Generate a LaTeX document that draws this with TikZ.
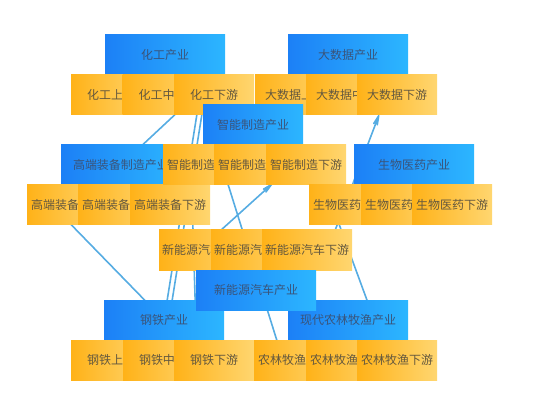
\documentclass[tikz,border=0pt]{standalone}
\usepackage{fontspec}
\setmainfont{Noto Sans CJK SC}
\usetikzlibrary{positioning}
\usetikzlibrary{backgrounds}
\usetikzlibrary{arrows.meta}
\definecolor{fg}{RGB}{100,88,62}
\definecolor{hdfg}{RGB}{58,84,122}
\definecolor{hdL}{RGB}{28,128,246}
\definecolor{hdR}{RGB}{44,182,255}
\definecolor{upL}{RGB}{255,178,24}
\definecolor{upR}{RGB}{255,214,112}
\definecolor{edge}{RGB}{86,172,226}
\tikzstyle{box}=[inner sep=0pt, minimum height=40pt, anchor=center,
font=\fontsize{12}{14}\selectfont]
\tikzstyle{ind}=[box, minimum width=120pt, text=hdfg, left color=hdL, right color=hdR]
\tikzstyle{part}=[box, minimum width=80pt, inner xsep=3pt, text=fg, left color=upL, right color=upR]
\tikzstyle{link}=[draw=edge, line width=1.6pt]
\tikzstyle{linkarrow}=[link, -{Stealth[length=17pt,width=7pt,round]}]

\begin{document}
\begin{tikzpicture}[x=1pt, y=-1pt]
    \useasboundingbox (0,0) rectangle (550,420);

    % 化工
    \node[ind] (hg) at (165,55) {化工产业};
    \node[part] (hg1) at (111,95) {化工上游};
    \node[part] (hg2) at (162.5,95) {化工中游};
    \node[part] (hg3) at (214,95) {化工下游};

    % 大数据
    \node[ind] (dsj) at (348,55) {大数据产业};
    \node[part] (dsj1) at (295,95) {大数据上游};
    \node[part] (dsj2) at (346,95) {大数据中游};
    \node[part] (dsj3) at (397,95) {大数据下游};

    % 高端装备
    \node[ind] (gd) at (121,165) {高端装备制造产业};
    \node[part] (gd1) at (67,205) {高端装备上游};
    \node[part] (gd2) at (118,205) {高端装备中游};
    \node[part] (gd3) at (170,205) {高端装备下游};

    % 智能制造
    \node[ind, minimum width=100pt] (zn) at (253,125) {智能制造产业};
    \node[part] (zn1) at (203,165) {智能制造上游};
    \node[part] (zn2) at (254,165) {智能制造中游};
    \node[part] (zn3) at (306,165) {智能制造下游};

    % 生物医药
    \node[ind] (sw) at (414,165) {生物医药产业};
    \node[part] (sw1) at (349,205) {生物医药上游};
    \node[part] (sw2) at (401,205) {生物医药中游};
    \node[part] (sw3) at (452,205) {生物医药下游};

    % 钢铁
    \node[ind] (gt) at (164,320) {钢铁产业};
    \node[part] (gt1) at (111,360) {钢铁上游};
    \node[part] (gt2) at (163,360) {钢铁中游};
    \node[part] (gt3) at (214,360) {钢铁下游};

    % 农林牧渔
    \node[ind] (nl) at (348,320) {现代农林牧渔产业};
    \node[part] (nl1) at (294,360) {农林牧渔上游};
    \node[part] (nl2) at (346,360) {农林牧渔中游};
    \node[part] (nl3) at (397,360) {农林牧渔下游};

    % 新能源汽车
    \node[part] (xny1) at (204,250) {新能源汽车上游};
    \node[part] (xny2) at (256,250) {新能源汽车中游};
    \node[part] (xny3) at (307,250) {新能源汽车下游};
    \node[ind] (xny) at (256,290) {新能源汽车产业};

    % links (ends hidden below the boxes)
    \coordinate (gdA) at (52,205);
    \coordinate (hgA) at (200,95);
    \coordinate (hgB) at (205,95);
    \coordinate (hgC) at (196,95);
    \coordinate (gtB) at (169,320);
    \coordinate (znA) at (191,165);
    \coordinate (gtC) at (197,360);
    \coordinate (znB) at (222,165);
    \coordinate (nlB) at (283,360);
    \coordinate (xnyA) at (199,250);
    \coordinate (zn3in) at (272,184);
    \coordinate (xnyB) at (320,270);
    \coordinate (dsj3in) at (379,115);
    \coordinate (swA) at (332,205);
    \coordinate (nlA) at (389,360);

    \begin{scope}[on background layer]
        \draw[link] (gdA) -- (gt.center);
        \draw[link] (hgA) -- (gt.center);
        \draw[link] (hgB) -- (gtB);
        \draw[link] (hgC) -- (gd.center);
        \draw[link] (znA) -- (gtC);
        \draw[link] (znB) -- (nlB);
        \draw[linkarrow] (xnyA) -- (zn3in);
        \draw[linkarrow] (xnyB) -- (dsj3in);
        \draw[link] (swA) -- (nlA);
    \end{scope}

\end{tikzpicture}
\end{document}
